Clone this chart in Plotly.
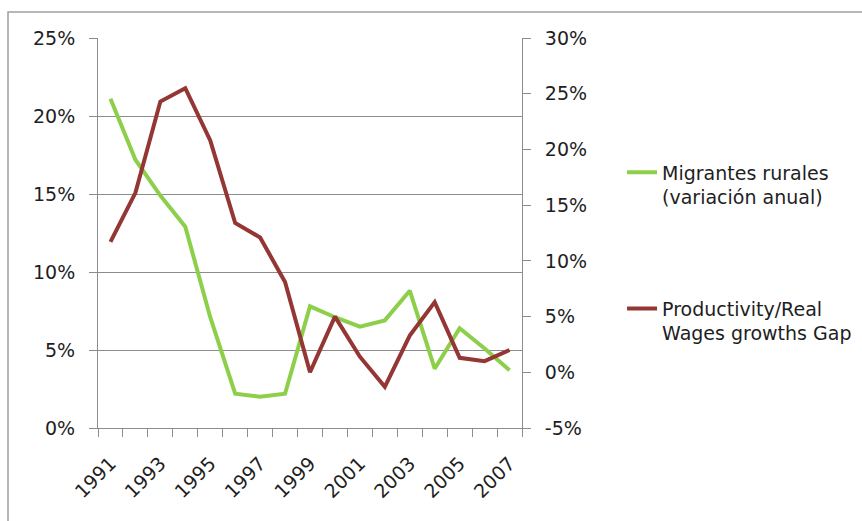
import plotly.graph_objects as go

years = list(range(1991, 2008))
year_labels = [str(y) if y % 2 == 1 else "" for y in years]

# Annual change in rural migrants (left axis)
migrantes = [0.211, 0.172, 0.149, 0.129, 0.071, 0.022, 0.020, 0.022, 0.078,
             0.071, 0.065, 0.069, 0.088, 0.038, 0.064, 0.051, 0.037]
# Productivity / real wage growth gap (right axis)
gap = [0.117, 0.161, 0.243, 0.255, 0.208, 0.134, 0.121, 0.081, 0.000,
       0.050, 0.014, -0.013, 0.033, 0.063, 0.013, 0.010, 0.020]

left_ticks = [0.00, 0.05, 0.10, 0.15, 0.20, 0.25]
right_ticks = [-0.05, 0.00, 0.05, 0.10, 0.15, 0.20, 0.25, 0.30]


def pct(v):
    # plain hyphen for negatives
    return f"{int(round(v * 100))}%"


GREEN = "#8DCF4A"
RED = "#943634"
AXIS = "#8C8C8C"
FONT = "DejaVu Sans"
TEXT = "#1E1E1E"

fig = go.Figure()
fig.add_trace(go.Scatter(
    x=years, y=migrantes, mode="lines", name="Migrantes rurales<br>(variación anual)",
    line=dict(color=GREEN, width=4), legend="legend", yaxis="y"))
fig.add_trace(go.Scatter(
    x=years, y=gap, mode="lines", name="Productivity/Real<br>Wages growths Gap",
    line=dict(color=RED, width=4), legend="legend2", yaxis="y2"))
# invisible trace carrying the boundary tick marks of the category axis
fig.add_trace(go.Scatter(x=years, y=migrantes, mode="lines", line=dict(width=0),
                         opacity=0, showlegend=False, hoverinfo="skip",
                         xaxis="x2", yaxis="y"))

x_range = [years[0] - 0.5, years[-1] + 0.5]
tick_font = dict(family=FONT, size=19, color=TEXT)
legend_font = dict(family=FONT, size=19, color=TEXT)

fig.update_layout(
    width=862, height=521,
    margin=dict(l=98, r=340, t=38, b=93, pad=0, autoexpand=False),
    paper_bgcolor="white", plot_bgcolor="white",
    font=dict(family=FONT, size=19, color=TEXT),
    xaxis=dict(range=x_range, tickmode="array", tickvals=years, ticktext=year_labels,
               tickangle=-45, ticks="", showgrid=False, zeroline=False,
               showline=True, linecolor=AXIS, linewidth=1, tickfont=tick_font,
               ticklabelstandoff=16, automargin=False),
    xaxis2=dict(range=x_range, overlaying="x", side="bottom", tickmode="array",
                tickvals=[y + 0.5 for y in [years[0] - 1] + years], showticklabels=False,
                ticks="outside", ticklen=8, tickcolor=AXIS, showgrid=False,
                zeroline=False, showline=False, anchor="y"),
    yaxis=dict(range=[0, 0.25], tickmode="array", tickvals=left_ticks,
               ticktext=[pct(v) for v in left_ticks],
               showgrid=True, gridcolor=AXIS, gridwidth=1, zeroline=False,
               showline=True, linecolor=AXIS, ticks="outside", ticklen=8,
               tickcolor=AXIS, tickfont=tick_font, ticklabelstandoff=10,
               automargin=False),
    yaxis2=dict(range=[-0.05, 0.30], tickmode="array", tickvals=right_ticks,
                ticktext=[pct(v) for v in right_ticks],
                overlaying="y", side="right", showgrid=False, zeroline=False,
                showline=True, linecolor=AXIS, ticks="outside", ticklen=8,
                tickcolor=AXIS, tickfont=tick_font, ticklabelstandoff=10,
                automargin=False),
    legend=dict(x=1.236, y=0.704, xanchor="left", yanchor="top", valign="top",
                font=legend_font, bgcolor="rgba(0,0,0,0)"),
    legend2=dict(x=1.236, y=0.355, xanchor="left", yanchor="top", valign="top",
                 font=legend_font, bgcolor="rgba(0,0,0,0)"),
    shapes=[dict(type="rect", xref="paper", yref="paper",
                 x0=-90 / 424, y0=-2, x1=2, y1=416 / 390,
                 line=dict(color="#A0A0A0", width=1.5), layer="below")],
)

fig.write_html("out.html")
